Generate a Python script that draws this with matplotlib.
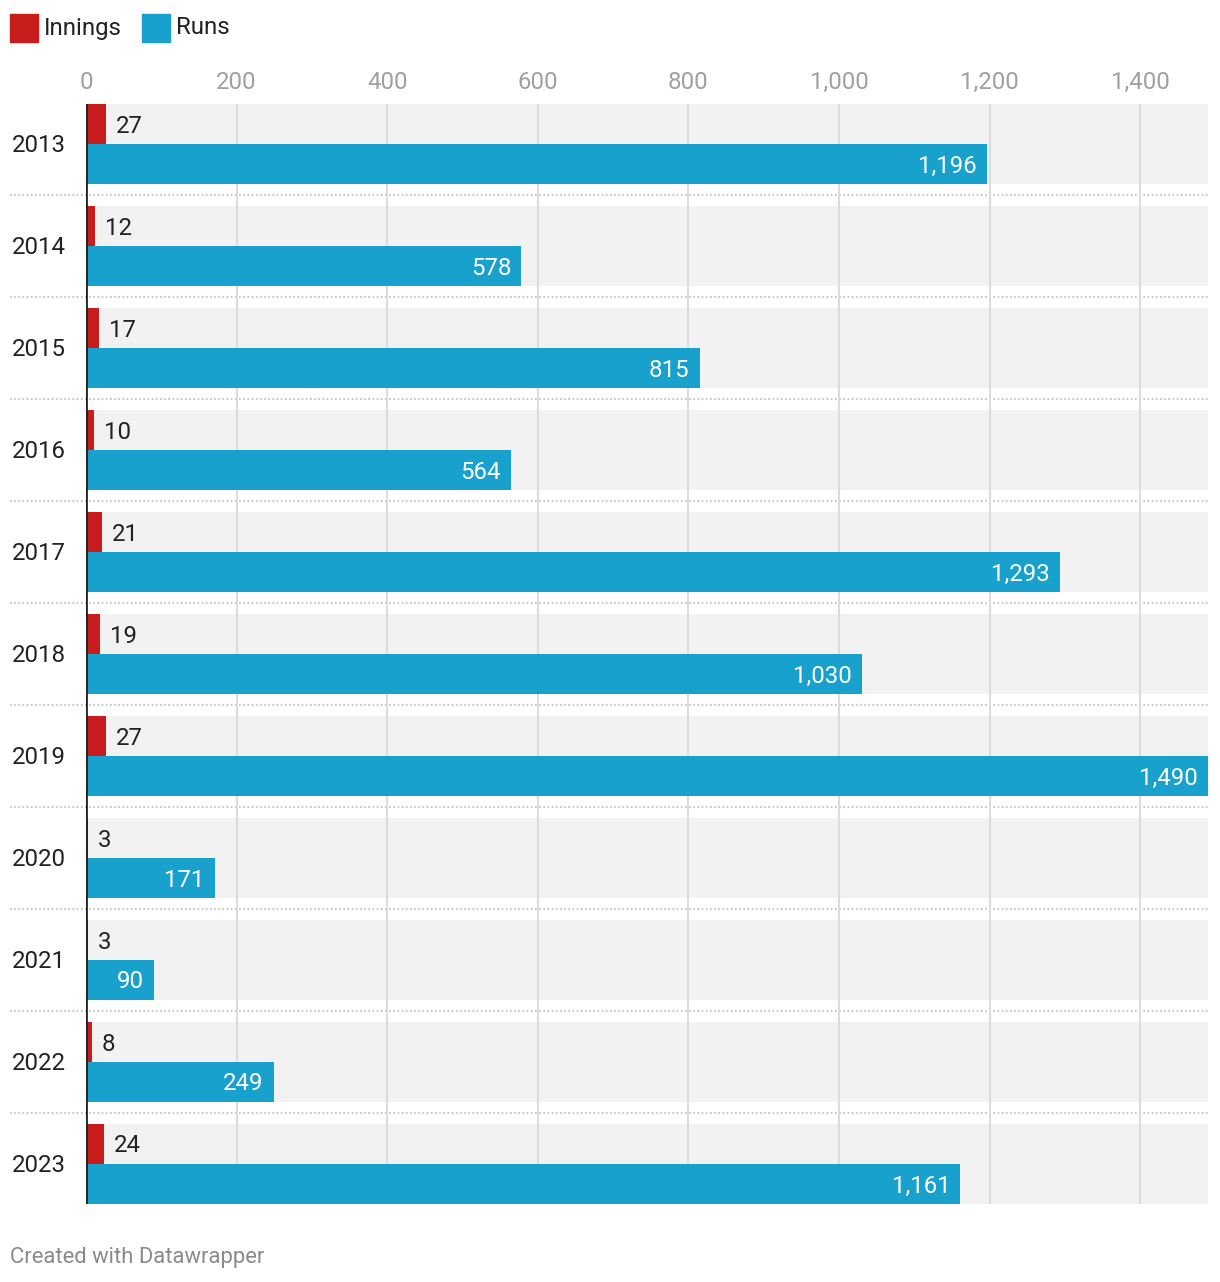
import matplotlib.pyplot as plt
from matplotlib.patches import Rectangle
import matplotlib.transforms as mtransforms

years = ["2013", "2014", "2015", "2016", "2017", "2018", "2019", "2020", "2021", "2022", "2023"]
innings = [27, 12, 17, 10, 21, 19, 27, 3, 3, 8, 24]
runs = [1196, 578, 815, 564, 1293, 1030, 1490, 171, 90, 249, 1161]
ticks = [0, 200, 400, 600, 800, 1000, 1200, 1400]

RED = "#c71e1d"
BLUE = "#18a1cd"
FS = 17.3
plt.rcParams['font.family'] = ['Roboto', 'DejaVu Sans']

W, H = 1220, 1282
fig = plt.figure(figsize=(W / 100, H / 100), dpi=100)
# axes in pixel coords: x 86..1208, y 104..1204
ax = fig.add_axes([86 / W, 1 - 1204 / H, (1208 - 86) / W, 1100 / H])

bh = 40 / 102
n = len(years)
ax.set_xlim(0, 1490)
ax.set_ylim(n - 1 + bh, -bh)

for i, (inn, r) in enumerate(zip(innings, runs)):
    # gray row background
    ax.add_patch(Rectangle((0, i - bh), 1490, 2 * bh, color="#f2f2f2", zorder=0, lw=0))
    ax.barh(i - bh / 2, inn, height=bh, color=RED, zorder=3, lw=0)
    ax.barh(i + bh / 2, r, height=bh, color=BLUE, zorder=3, lw=0)
    ax.annotate(f"{inn}", (inn, i - bh / 2), xytext=(10, -2), textcoords="offset pixels",
                ha="left", va="center", fontsize=FS, color="#222222", zorder=5)
    ax.annotate(f"{r:,}", (r, i + bh / 2), xytext=(-10, -2), textcoords="offset pixels",
                ha="right", va="center", fontsize=FS, color="white", zorder=5)
    fig.text(12 / W, 1 - (106 + 40 + 102 * i) / H, years[i], ha="left", va="center",
             fontsize=FS, color="#222222")

# dotted separators between rows, across full width
trans = mtransforms.blended_transform_factory(fig.transFigure, ax.transData)
for i in range(n - 1):
    ax.plot([10 / W, 1208 / W], [i + 0.5, i + 0.5], transform=trans, color="#bbbbbb",
            lw=1.2, ls=(0, (1, 1.5)), clip_on=False, zorder=1)

for t in ticks[1:]:
    ax.axvline(t, color="#dcdcdc", lw=1.5, zorder=1)
ax.axvline(0, color="#222222", lw=2, zorder=6)

ax.set_xticks(ticks)
ax.set_xticklabels([f"{t:,}" for t in ticks])
ax.xaxis.tick_top()
ax.tick_params(axis="x", length=0, pad=7, labelsize=FS, labelcolor="#a0a0a0")
ax.set_yticks([])
for s in ax.spines.values():
    s.set_visible(False)

# legend
fig.patches.append(Rectangle((10 / W, 1 - 42 / H), 28 / W, 28 / H, color=RED,
                             transform=fig.transFigure, figure=fig))
fig.text(44 / W, 1 - 28 / H, "Innings", ha="left", va="center", fontsize=FS, color="#222222")
fig.patches.append(Rectangle((142 / W, 1 - 42 / H), 28 / W, 28 / H, color=BLUE,
                             transform=fig.transFigure, figure=fig))
fig.text(176 / W, 1 - 28 / H, "Runs", ha="left", va="center", fontsize=FS, color="#222222")

fig.text(10 / W, 1 - 1258 / H, "Created with Datawrapper", ha="left", va="center",
         fontsize=15.8, color="#8a8a8a")

fig.savefig("out.png", dpi=100)
